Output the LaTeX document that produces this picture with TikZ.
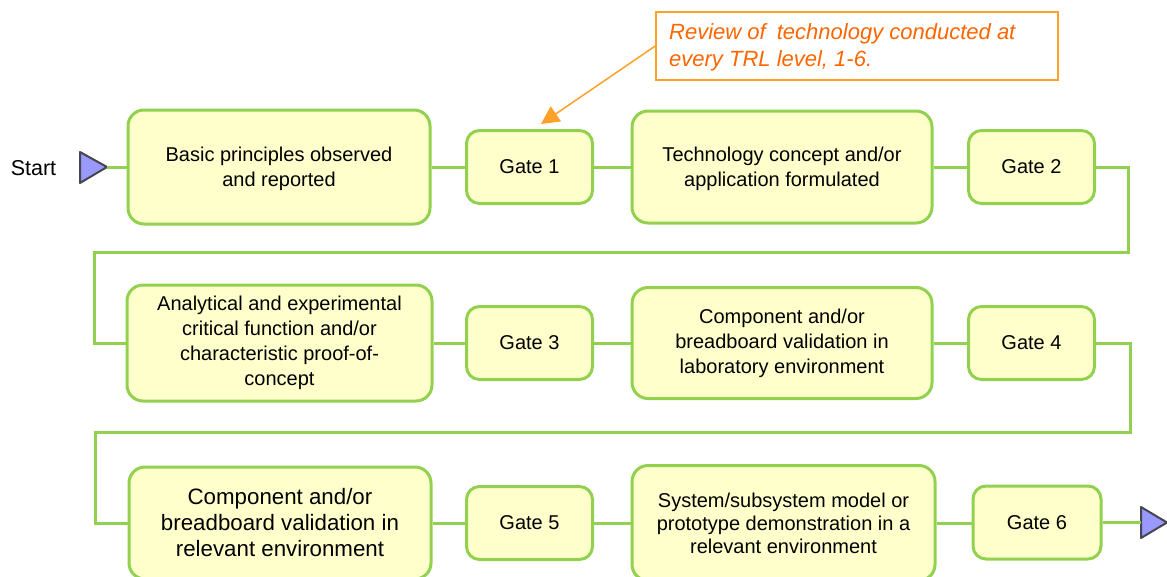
\documentclass[tikz,border=0pt]{standalone}
\usepackage{fontspec}
\setmainfont{Liberation Sans}
\usetikzlibrary{arrows.meta}
\definecolor{gborder}{RGB}{146,208,80}
\definecolor{bfill}{RGB}{255,255,204}
\definecolor{oline}{RGB}{255,160,40}
\definecolor{otext}{RGB}{255,102,0}
\definecolor{trifill}{RGB}{153,153,255}
\definecolor{tridraw}{RGB}{70,70,80}
\begin{document}
\begin{tikzpicture}[x=1pt,y=-1pt,
  stage/.style={draw=gborder, line width=3pt, fill=bfill, rounded corners=16pt,
    align=center, font=\fontsize{20}{25}\selectfont, inner sep=0pt},
  bigbox/.style={stage, minimum width=302pt, minimum height=114pt},
  gatebox/.style={stage, rounded corners=13pt, minimum width=126pt, minimum height=73pt},
  link/.style={draw=gborder, line width=3pt},
  tri/.style={fill=trifill, draw=tridraw, line width=2pt, line join=round},
  callout/.style={draw=oline, line width=1.5pt, fill=white, minimum width=402pt, minimum height=68pt, inner sep=0pt},
  note/.style={text=otext, font=\fontsize{22}{27}\selectfont\itshape, align=left, inner sep=0pt}]
\useasboundingbox (0,0) rectangle (1167,576);

% start / end markers
\node[anchor=center, font=\fontsize{21.5}{25}\selectfont, inner sep=0pt] (starttxt) at (33.5,168) {Start};
\draw[tri] (80,152) -- (107,167) -- (80,183) -- cycle;
\coordinate (s) at (107,167);
\draw[tri] (1141,507) -- (1167,522.5) -- (1141,538) -- cycle;
\coordinate (e) at (1141,522.5);

% row 1
\node[bigbox, text depth=-4pt] (b1) at (279,167) {Basic principles observed\\and reported};
\node[gatebox] (g1) at (529.5,167) {Gate 1};
\node[bigbox, minimum width=300pt, minimum height=112pt, text depth=-4pt] (b2) at (782,167) {Technology concept and/or\\application formulated};
\node[gatebox] (g2) at (1031.5,167) {Gate 2};

% row 2
\node[bigbox, minimum width=305pt, minimum height=116pt] (b3) at (279.5,343) {Analytical and experimental\\critical function and/or\\characteristic proof-of-\\concept};
\node[gatebox] (g3) at (529.5,343) {Gate 3};
\node[bigbox, minimum width=300pt, minimum height=111pt] (b4) at (782,343) {Component and/or\\breadboard validation in\\laboratory environment};
\node[gatebox] (g4) at (1031.5,343) {Gate 4};

% row 3
\node[bigbox, minimum height=112pt, font=\fontsize{22.3}{26}\selectfont] (b5) at (280,523) {Component and/or\\breadboard validation in\\relevant environment};
\node[gatebox] (g5) at (529.5,523) {Gate 5};
\node[bigbox, minimum width=303pt, minimum height=115pt, font=\fontsize{20}{23}\selectfont] (b6) at (783.5,523) {System/subsystem model or\\prototype demonstration in a\\relevant environment};
\node[gatebox, minimum width=128pt] (g6) at (1037,522.5) {Gate 6};

% connectors
\draw[link] (s) -- (b1.west);
\draw[link] (b1.east) -- (g1.west);
\draw[link] (g1.east) -- (b2.west);
\draw[link] (b2.east) -- (g2.west);
\draw[link] (g2.east) -- (1128,167) -- (1128,252) -- (94,252) -- (94,343) -- (b3.west);
\draw[link] (b3.east) -- (g3.west);
\draw[link] (g3.east) -- (b4.west);
\draw[link] (b4.east) -- (g4.west);
\draw[link] (g4.east) -- (1130,343) -- (1130,432) -- (95,432) -- (95,523) -- (b5.west);
\draw[link] (b5.east) -- (g5.west);
\draw[link] (g5.east) -- (b6.west);
\draw[link] (b6.east) -- (b6.east -| g6.west);
\draw[link] (g6.east) -- (e);

% callout
\node[callout] (cb) at (857,46) {};
\node[note, anchor=west] (ct) at (669,47) {Review of\hspace{5pt} technology conducted at\\every TRL level, 1-6.};
\coordinate (tip) at (541,124);
\draw[draw=oline, line width=1.5pt, -{Triangle[length=18pt, width=18pt]}] (cb.west) -- (tip);
\end{tikzpicture}
\end{document}
